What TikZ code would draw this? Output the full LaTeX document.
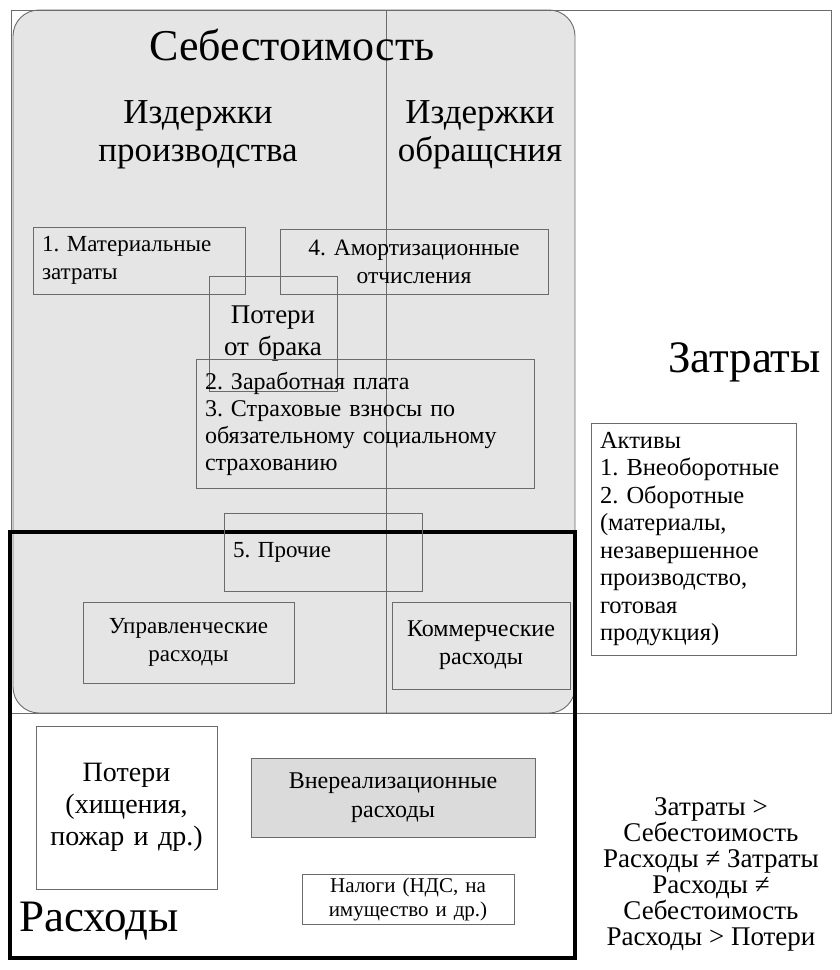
\documentclass[tikz,border=0pt]{standalone}
\usepackage{fontspec}
\setmainfont{Liberation Serif}
\frenchspacing
\definecolor{costgray}{gray}{0.90}
\definecolor{boxgray}{gray}{0.86}
\definecolor{linegray}{gray}{0.42}

\begin{document}
\begin{tikzpicture}[x=1pt,y=-1pt,
  every node/.style={font=\fontsize{23}{28}\selectfont,inner sep=0pt},
  frame/.style={draw=linegray,line width=0.9pt},
  box/.style={draw=linegray,line width=0.9pt,inner xsep=9pt,inner ysep=0pt,align=center}]
  \useasboundingbox (0,0) rectangle (840,970);
  % cost price area and frames
  \fill[costgray,rounded corners=26pt] (13,10) rectangle (575,713);
  \draw[frame,rounded corners=26pt] (13,10) rectangle (575,713);
  \draw[frame] (11,10) rectangle (831,713);
  \draw[frame] (386,10) -- (386,713);
  \draw[line width=4pt] (10,532) rectangle (575,958);
  % headings
  \node[font=\fontsize{44}{44}\selectfont] (sebest) at (292,45) {Себестоимость};
  \node[align=center,font=\fontsize{35}{38}\selectfont] (izdpr) at (198,135) {Издержки\\производства};
  \node[align=center,font=\fontsize{35}{38}\selectfont] (izdobr) at (480,135) {Издержки\\обращсния};
  \node[anchor=east,font=\fontsize{45}{45}\selectfont] (zatr) at (821,362) {Затраты};
  \node[anchor=west,font=\fontsize{45}{45}\selectfont] (rash) at (19,921) {Расходы};
  % cost items
  \node[box,align=left,text width=194pt,minimum height=67pt] (mat) at (139,260.5) {1. Материальные\\затраты};
  \node[box,text width=250pt,minimum height=65pt,font=\fontsize{23.5}{28}\selectfont] (amort) at (414,261.5) {4. Амортизационные\\отчисления};
  \node[box,text width=110pt,minimum height=115pt,font=\fontsize{27}{32}\selectfont] (brak) at (273,334) {Потери\\от брака};
  \node[box,align=left,text width=320pt,minimum height=129pt,font=\fontsize{24}{27}\selectfont] (zarp) at (365,423.5) {2. Заработная плата\\3. Страховые взносы по\\обязательному социальному\\страхованию};
  \node[box,align=left,text width=180pt,minimum height=78pt] (proch) at (323,552) {5. Прочие};
  \node[box,text width=193pt,minimum height=81pt] (upr) at (188.5,642.5) {Управленческие\\расходы};
  \node[box,text width=160pt,minimum height=87pt,font=\fontsize{24}{28}\selectfont] (komm) at (481,645.5) {Коммерческие\\расходы};
  \node[box,align=left,text width=187pt,minimum height=232pt,font=\fontsize{24.5}{27.5}\selectfont] (aktiv) at (693.5,539) {Активы\\1. Внеоборотные\\2. Оборотные\\(материалы,\\незавершенное\\производство,\\готовая\\продукция)};
  % expenses outside cost price
  \node[box,text width=163pt,minimum height=163pt,font=\fontsize{28}{32}\selectfont] (poteri) at (126.5,807.5) {Потери\\(хищения,\\пожар и др.)};
  \node[box,fill=boxgray,text width=266pt,minimum height=79pt,font=\fontsize{24}{29}\selectfont] (vnereal) at (393,797.5) {Внереализационные\\расходы};
  \node[box,text width=200pt,minimum height=50pt,inner xsep=6pt,font=\fontsize{21}{24}\selectfont] (nalogi) at (408,899) {Налоги (НДС, на\\имущество и др.)};
  \node[align=center,font=\fontsize{27}{26}\selectfont] (rel) at (711,874) {Затраты >\\Себестоимость\\Расходы ≠ Затраты\\Расходы ≠\\Себестоимость\\Расходы > Потери};
\end{tikzpicture}
\end{document}
